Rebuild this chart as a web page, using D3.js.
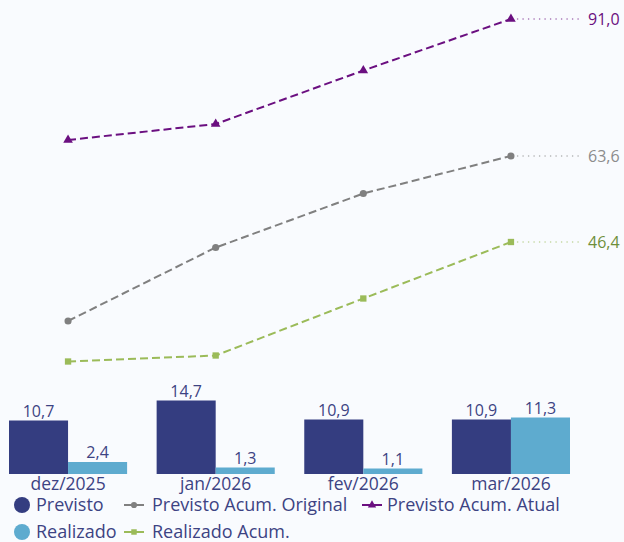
<!DOCTYPE html>
<html>
<head>
<meta charset="utf-8">
<script src="https://cdn.jsdelivr.net/npm/d3@7"></script>
<style>
  html, body { margin: 0; padding: 0; background: #f9fbfe; }
  svg { display: block; font-family: "Open Sans", "Noto Sans", sans-serif; }
</style>
</head>
<body>
<div id="chart"></div>
<script>
const width = 624;
const height = 542;

const categories = ["dez/2025", "jan/2026", "fev/2026", "mar/2026"];
const previsto = [10.7, 14.7, 10.9, 10.9];
const realizado = [2.4, 1.3, 1.1, 11.3];
const previstoAcumOriginal = [30.6, 45.3, 56.1, 63.6];
const previstoAcumAtual = [66.8, 70.0, 80.7, 91.0];
const realizadoAcum = [22.5, 23.7, 35.1, 46.4];

const textColor = "#3d4383";
const barSeries = [
  { key: "Previsto", values: previsto, color: "#343d80" },
  { key: "Realizado", values: realizado, color: "#5eabcf" }
];
const lineSeries = [
  { key: "Previsto Acum. Original", values: previstoAcumOriginal, color: "#808080", label: "#8c8c8c", symbol: d3.symbolCircle },
  { key: "Previsto Acum. Atual", values: previstoAcumAtual, color: "#6b0f80", label: "#6b0f80", symbol: d3.symbolTriangle },
  { key: "Realizado Acum.", values: realizadoAcum, color: "#9bbb59", label: "#6f8f3a", symbol: d3.symbolSquare }
];

const fmt = v => d3.format(".1f")(v).replace(".", ",");

const svg = d3.select("#chart")
  .append("svg")
    .attr("width", width)
    .attr("height", height)
    .attr("viewBox", [0, 0, width, height]);

svg.append("rect")
  .attr("width", width)
  .attr("height", height)
  .attr("fill", "#f9fbfe");

const xScale = d3.scaleBand()
  .domain(categories)
  .range([9, 570])
  .paddingInner(0.2)
  .paddingOuter(0);

const xSub = d3.scaleBand()
  .domain(barSeries.map(s => s.key))
  .range([0, xScale.bandwidth()]);

const yScale = d3.scaleLinear()
  .domain([0, 91])
  .range([474, 19]);

// bars
barSeries.forEach(series => {
  const g = svg.append("g");
  g.selectAll("rect")
    .data(series.values)
    .join("rect")
      .attr("x", (d, i) => xScale(categories[i]) + xSub(series.key))
      .attr("y", d => yScale(d))
      .attr("width", xSub.bandwidth())
      .attr("height", d => yScale(0) - yScale(d))
      .attr("fill", series.color);

  g.selectAll("text")
    .data(series.values)
    .join("text")
      .attr("x", (d, i) => xScale(categories[i]) + xSub(series.key) + xSub.bandwidth() / 2)
      .attr("y", d => yScale(d) - 4)
      .attr("text-anchor", "middle")
      .attr("font-size", 16)
      .attr("fill", textColor)
      .text(d => fmt(d));
});

// category axis
const bottomAxis = d3.axisBottom(xScale)
  .tickSize(0)
  .tickPadding(4);

svg.append("g")
    .attr("transform", `translate(0, ${yScale(0)})`)
    .call(bottomAxis)
    .call(g => g.select(".domain").remove())
    .call(g => g.selectAll("text")
      .attr("font-size", 17.5)
      .attr("font-family", "Open Sans, sans-serif")
      .attr("fill", textColor));

// lines
const cx = i => xScale(categories[i]) + xScale.bandwidth() / 2;
const lineGen = d3.line()
  .x((d, i) => cx(i))
  .y(d => yScale(d));

lineSeries.forEach(series => {
  const g = svg.append("g");
  g.append("path")
    .attr("d", lineGen(series.values))
    .attr("fill", "none")
    .attr("stroke", series.color)
    .attr("stroke-width", 2)
    .attr("stroke-dasharray", "8,4");

  g.selectAll("path.marker")
    .data(series.values)
    .join("path")
      .attr("class", "marker")
      .attr("transform", (d, i) => `translate(${cx(i)}, ${yScale(d)})`)
      .attr("d", d3.symbol(series.symbol, 40))
      .attr("fill", series.color);

  // leader + end label
  const last = series.values.length - 1;
  const ly = yScale(series.values[last]);
  g.append("line")
    .attr("x1", cx(last) + 6)
    .attr("x2", 582)
    .attr("y1", ly)
    .attr("y2", ly)
    .attr("stroke", series.color)
    .attr("stroke-opacity", 0.55)
    .attr("stroke-width", 1.3)
    .attr("stroke-dasharray", "1.3,4.2");

  g.append("text")
    .attr("x", 588)
    .attr("y", ly)
    .attr("dy", "0.35em")
    .attr("font-size", 16)
    .attr("fill", series.label)
    .text(fmt(series.values[last]));
});

// legend
const legendItems = [
  { row: 0, col: 0, type: "bar", s: barSeries[0] },
  { row: 0, col: 1, type: "line", s: lineSeries[0] },
  { row: 0, col: 2, type: "line", s: lineSeries[1] },
  { row: 1, col: 0, type: "bar", s: barSeries[1] },
  { row: 1, col: 1, type: "line", s: lineSeries[2] }
];
const colX = [14, 122, 360];
const rowY = [505, 532];

const legend = svg.append("g");
legendItems.forEach(item => {
  const g = legend.append("g")
    .attr("transform", `translate(${colX[item.col]}, ${rowY[item.row]})`);
  let textX;
  if (item.type === "bar") {
    g.append("circle")
      .attr("cx", 8)
      .attr("r", 8)
      .attr("fill", item.s.color);
    textX = 22;
  } else {
    g.append("line")
      .attr("x1", 2)
      .attr("x2", 22)
      .attr("stroke", item.s.color)
      .attr("stroke-width", 2);
    g.append("path")
      .attr("transform", "translate(12, 0)")
      .attr("d", d3.symbol(item.s.symbol, 30))
      .attr("fill", item.s.color);
    textX = item.col === 1 ? 30 : 27;
  }
  g.append("text")
    .attr("x", textX)
    .attr("dy", "0.35em")
    .attr("font-size", 18)
    .attr("fill", textColor)
    .text(item.s.key);
});
</script>
</body>
</html>
